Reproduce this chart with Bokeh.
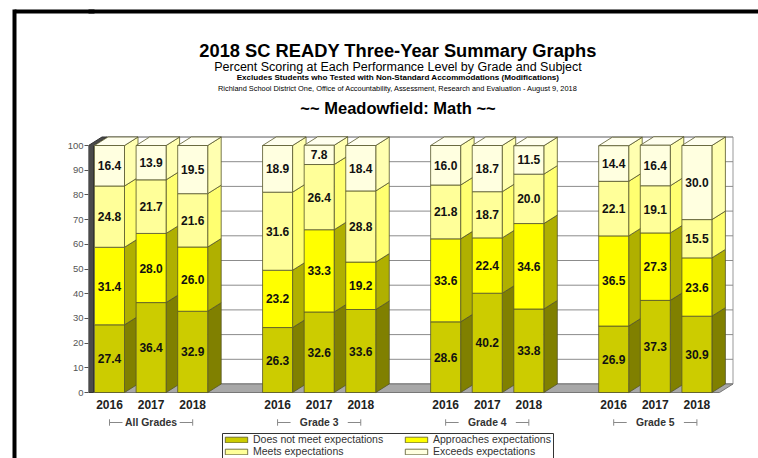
from bokeh.plotting import figure
from bokeh.models import (Range1d, ColumnDataSource, FixedTicker, Legend, LegendItem,
                          LinearAxis)
from bokeh.embed import file_html
from bokeh.resources import INLINE
from bokeh.core.properties import value

# ---------------- data ----------------
groups = ["All Grades", "Grade 3", "Grade 4", "Grade 5"]
years = ["2016", "2017", "2018"]
levels = ["Does not meet expectations", "Approaches expectations",
          "Meets expectations", "Exceeds expectations"]
does_not_meet = [27.4, 36.4, 32.9, 26.3, 32.6, 33.6, 28.6, 40.2, 33.8, 26.9, 37.3, 30.9]
approaches = [31.4, 28.0, 26.0, 23.2, 33.3, 19.2, 33.6, 22.4, 34.6, 36.5, 27.3, 23.6]
meets = [24.8, 21.7, 21.6, 31.6, 26.4, 28.8, 21.8, 18.7, 20.0, 22.1, 19.1, 15.5]
exceeds = [16.4, 13.9, 19.5, 18.9, 7.8, 18.4, 16.0, 18.7, 11.5, 14.4, 16.4, 30.0]
y_ticks = [0, 10, 20, 30, 40, 50, 60, 70, 80, 90, 100]

title = "2018 SC READY Three-Year Summary Graphs"
subtitle = "Percent Scoring at Each Performance Level by Grade and Subject"
note1 = "Excludes Students who Tested with Non-Standard Accommodations (Modifications)"
note2 = ("Richland School District One, Office of Accountability, Assessment, "
         "Research and Evaluation - August 9, 2018")
heading = "~~ Meadowfield: Math ~~"

# ---------------- style / layout ----------------
FONT = "Liberation Sans"
front_colors = ["#CCCC00", "#FFFF00", "#FFFF99", "#FFFFE0"]
side_colors = ["#808000", "#B0B000", "#FFFF70", "#FFFFB0"]
top_color = "#FFFFEE"
edge = "#55552A"

W, H = 758, 458
FL = 88                   # frame left in canvas px
X0_PAGE, SLOT = 109.0, 41.6
Y0_PAGE, PPU = 392.0, 2.47
GROUP_STEP = 4.04
BAR_W = 30 / SLOT
DX = 13.5 / SLOT
DY = 8.5 / PPU


def xd(px):
    return (px - X0_PAGE) / SLOT


def yd(py):
    return (Y0_PAGE - py) / PPU


p = figure(width=W, height=H, output_backend="svg", toolbar_location=None,
           x_range=Range1d(xd(FL), xd(W)), y_range=Range1d(yd(H), yd(0)),
           min_border_left=FL, min_border_right=0, min_border_top=0, min_border_bottom=0,
           x_axis_location=None)
p.outline_line_color = None
p.grid.visible = False
p.background_fill_color = "white"
p.border_fill_color = "white"

ya = p.yaxis[0]
ya.ticker = FixedTicker(ticks=y_ticks)
ya.bounds = (0, 100)
ya.axis_line_color = None
ya.major_tick_out = 4
ya.major_tick_in = 0
ya.minor_tick_line_color = None
ya.major_tick_line_color = "#555555"
ya.major_label_standoff = 1
ya.major_label_text_font = FONT
ya.major_label_text_font_size = "9.5px"
ya.major_label_text_color = "#555555"

# spacer axis and outer black border (left edge + top-left stub)
spacer = LinearAxis(ticker=FixedTicker(ticks=[50]), axis_line_color=None,
                    major_tick_out=50, major_tick_in=0, major_tick_line_color=None,
                    minor_tick_line_color=None, major_label_overrides={50: ""},
                    major_label_text_color=None, major_label_standoff=0)
p.add_layout(spacer, "left")
BORDER_Y = yd(11)
border = LinearAxis(ticker=FixedTicker(ticks=[BORDER_Y]), bounds=(yd(H), yd(9)),
                    axis_line_color="black", axis_line_width=4,
                    major_tick_out=0, major_tick_in=80, major_tick_line_color="black",
                    major_tick_line_width=4, minor_tick_line_color=None,
                    major_label_overrides={BORDER_Y: ""},
                    major_label_text_color=None, major_label_standoff=0)
p.add_layout(border, "left")
p.segment(x0=[xd(FL - 2)], x1=[xd(W + 2)], y0=[BORDER_Y], y1=[BORDER_Y],
          line_color="black", line_width=4)

# ---------------- frame of the box (walls, floor) ----------------
xl, xr = xd(88), xd(93)
xfr = xd(719)
p.quad(left=xr + DX, right=xfr + DX, bottom=DY, top=100 + DY,
       fill_color="white", line_color="#999999", line_width=1)
p.segment(x0=[xr + DX] * len(y_ticks), x1=[xfr + DX] * len(y_ticks),
          y0=[t + DY for t in y_ticks], y1=[t + DY for t in y_ticks],
          line_color="#8C8C8C", line_width=1)
p.patch(x=[xr, xfr, xfr + DX, xr + DX], y=[0, 0, DY, DY],
        fill_color="#A8A8A8", line_color="#777777", line_width=1)
p.patch(x=[xl, xl, xl + DX, xr + DX, xr, xr], y=[0, 100, 100 + DY, 100 + DY, 100, 0],
        fill_color="#4A4A4A", line_color="#333333", line_width=1)

# ---------------- bars ----------------
bar_x = [g * GROUP_STEP + i for g in range(len(groups)) for i in range(len(years))]
series = [does_not_meet, approaches, meets, exceeds]

bottoms = [0.0] * len(bar_x)
seg_info = []
for k, vals in enumerate(series):
    tops = [b + v for b, v in zip(bottoms, vals)]
    seg_info.append((list(bottoms), tops, vals))
    bottoms = tops
totals = bottoms

for k, (bots, tops, vals) in enumerate(seg_info):
    xs, ys = [], []
    for x, b, t in zip(bar_x, bots, tops):
        r = x + BAR_W / 2
        xs.append([r, r + DX, r + DX, r])
        ys.append([b, b + DY, t + DY, t])
    p.patches(xs=xs, ys=ys, fill_color=side_colors[k], line_color=edge, line_width=0.8)

txs, tys = [], []
for x, t in zip(bar_x, totals):
    l, r = x - BAR_W / 2, x + BAR_W / 2
    txs.append([l, l + DX, r + DX, r])
    tys.append([t, t + DY, t + DY, t])
p.patches(xs=txs, ys=tys, fill_color=top_color, line_color=edge, line_width=0.8)

front_renderers = []
for k, (bots, tops, vals) in enumerate(seg_info):
    src = ColumnDataSource(dict(x=bar_x, bottom=bots, top=tops))
    r = p.vbar(x="x", width=BAR_W, bottom="bottom", top="top", source=src,
               fill_color=front_colors[k], line_color=edge, line_width=0.8)
    front_renderers.append(r)

for k, (bots, tops, vals) in enumerate(seg_info):
    src = ColumnDataSource(dict(x=bar_x, y=[(b + t) / 2 for b, t in zip(bots, tops)],
                                txt=[f"{v:.1f}" for v in vals]))
    p.text(x="x", y="y", text="txt", source=src, text_font=value(FONT),
           text_font_size="12px", text_font_style="bold", text_color="#111111",
           text_align="center", text_baseline="middle")

# year labels
p.text(x=bar_x, y=[yd(404)] * len(bar_x), text=years * len(groups), text_font=value(FONT),
       text_font_size="12px", text_font_style="bold", text_color="#222222",
       text_align="center", text_baseline="middle")

# group labels with brackets
gx = [g * GROUP_STEP + 1 for g in range(len(groups))]
p.text(x=gx, y=[yd(422)] * len(gx), text=groups, text_font=value(FONT),
       text_font_size="10.4px", text_font_style="bold", text_color="#333333",
       text_align="center", text_baseline="middle")
bx0, bx1, by0, by1 = [], [], [], []
seg_len = 13 / SLOT
ybr = yd(422)
for c in gx:
    for side in (-1, 1):
        e = c + side * 1.0
        bx0 += [e, e]
        bx1 += [e - side * seg_len, e]
        by0 += [ybr, ybr - 1.3]
        by1 += [ybr, ybr + 1.3]
p.segment(x0=bx0, x1=bx1, y0=by0, y1=by1, line_color="#888888", line_width=1)

# ---------------- titles ----------------
cx = xd(397.5)
for txt, py, size, style in [(title, 50, "18.3px", "bold"), (subtitle, 66, "12.5px", "normal"),
                             (note1, 77, "8.1px", "bold"), (note2, 88, "7.4px", "normal"),
                             (heading, 107, "16.5px", "bold")]:
    p.text(x=[cx], y=[yd(py)], text=[txt], text_font=value(FONT), text_font_size=size,
           text_font_style=style, text_color="#000000", text_align="center",
           text_baseline="middle")

# ---------------- legend ----------------
p.quad(left=[xd(222)], right=[xd(553)], top=[yd(433)], bottom=[yd(H + 4)],
       fill_color="white", line_color="#333333", line_width=1)


def make_legend(idx, left_px):
    lg = Legend(items=[LegendItem(label=levels[k], renderers=[front_renderers[k]]) for k in idx],
                location=(left_px - FL, 1), orientation="vertical")
    lg.label_text_font = FONT
    lg.label_text_font_size = "10.5px"
    lg.label_text_color = "#333333"
    lg.glyph_width = 28
    lg.glyph_height = 7
    lg.label_height = 11
    lg.label_standoff = 3
    lg.spacing = 0
    lg.padding = 0
    lg.margin = 0
    lg.border_line_color = None
    lg.background_fill_alpha = 0
    p.add_layout(lg)


make_legend([0, 2], 222)
make_legend([1, 3], 402)

open("out.html", "w").write(file_html(p, INLINE))
